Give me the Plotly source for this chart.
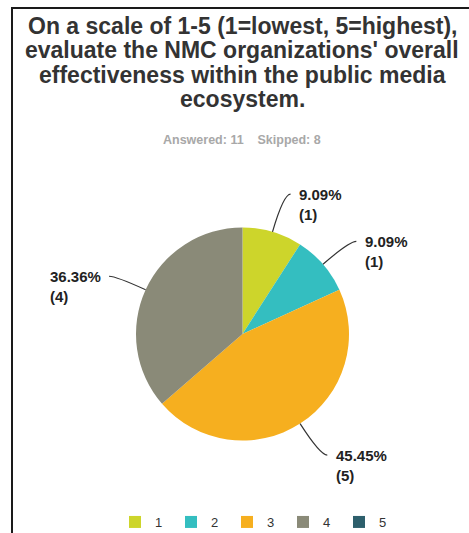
import math
import plotly.graph_objects as go

# Survey responses
categories = ["1", "2", "3", "4", "5"]
counts = [1, 1, 5, 4, 0]
colors = ["#CDD52B", "#34BEC0", "#F6AF1F", "#8A8A78", "#2D5F6C"]

title_lines = [
    "On a scale of 1-5 (1=lowest, 5=highest),",
    "evaluate the NMC organizations' overall",
    "effectiveness within the public media",
    "ecosystem.",
]
subtitle = "Answered: 11&nbsp;&nbsp;&nbsp;&nbsp;Skipped: 8"

W, H = 469, 533
FONT = "Liberation Sans, Arial, sans-serif"

# pie geometry in pixels
cx, cy, R = 242.5, 334.0, 106.5


def px(x):
    return x / W


def py(y):
    return 1 - y / H


fig = go.Figure(
    go.Pie(
        labels=categories,
        values=counts,
        sort=False,
        direction="clockwise",
        rotation=0,
        marker=dict(colors=colors, line=dict(width=0)),
        textinfo="none",
        hoverinfo="label+value+percent",
        domain=dict(x=[px(cx - R), px(cx + R)], y=[py(cy + R), py(cy - R)]),
    )
)

shapes = []
annotations = []

# leader lines and value labels, computed from slice mid-angles;
# labels sit on a slightly taller ellipse than the pie
total = sum(counts)
cum = 0
for v in counts:
    if v <= 0:
        continue
    mid = (cum + v / 2) / total
    cum += v
    th = 2 * math.pi * mid
    dx, dy = math.sin(th), -math.cos(th)
    side = 1 if dx >= 0 else -1
    ext = 31 + 9 * dy * dy
    x0, y0 = cx + R * dx, cy + R * dy
    x1, y1 = cx + (R + ext) * dx, cy + (R + ext) * dy
    x2, y2 = x1 + side * 7, y1
    shapes.append(
        dict(
            type="path",
            xref="paper",
            yref="paper",
            path=f"M {px(x0)},{py(y0)} Q {px(x1)},{py(y1)} {px(x2)},{py(y2)}",
            line=dict(color="#333333", width=1.2),
        )
    )
    annotations.append(
        dict(
            xref="paper",
            yref="paper",
            x=px(x2 + side * 6.5),
            y=py(y2 - 10.5),
            xanchor="left" if side > 0 else "right",
            yanchor="top",
            align="left",
            showarrow=False,
            text=f"<b>{v / total * 100:.2f}%<br>({v})</b>",
            font=dict(family=FONT, size=15, color="#222222"),
        )
    )

# title, one annotation per line
for i, line in enumerate(title_lines):
    annotations.append(
        dict(
            xref="paper",
            yref="paper",
            x=px(242),
            y=py(25.5 + i * 24.5),
            xanchor="center",
            yanchor="middle",
            showarrow=False,
            text=f"<b>{line}</b>",
            font=dict(family=FONT, size=23, color="#333333"),
        )
    )

annotations.append(
    dict(
        xref="paper",
        yref="paper",
        x=px(242),
        y=py(140),
        xanchor="center",
        yanchor="middle",
        showarrow=False,
        text=f"<b>{subtitle}</b>",
        font=dict(family=FONT, size=12.5, color="#A8A8A8"),
    )
)

# frame on the top and left edges
shapes.append(
    dict(
        type="path",
        xref="paper",
        yref="paper",
        path=f"M {px(W)},{py(8)} L {px(12)},{py(8)} L {px(12)},{py(H)}",
        line=dict(color="#1a1a1a", width=2),
    )
)

fig.update_layout(
    width=W,
    height=H,
    margin=dict(l=0, r=0, t=0, b=0, autoexpand=False),
    paper_bgcolor="white",
    plot_bgcolor="white",
    shapes=shapes,
    annotations=annotations,
    showlegend=True,
    legend=dict(
        orientation="h",
        x=px(115),
        xanchor="left",
        y=py(537),
        yanchor="bottom",
        entrywidth=11,
        entrywidthmode="pixels",
        font=dict(family=FONT, size=13, color="#333333"),
        traceorder="normal",
        itemclick=False,
    ),
)

fig.write_html("out.html")
